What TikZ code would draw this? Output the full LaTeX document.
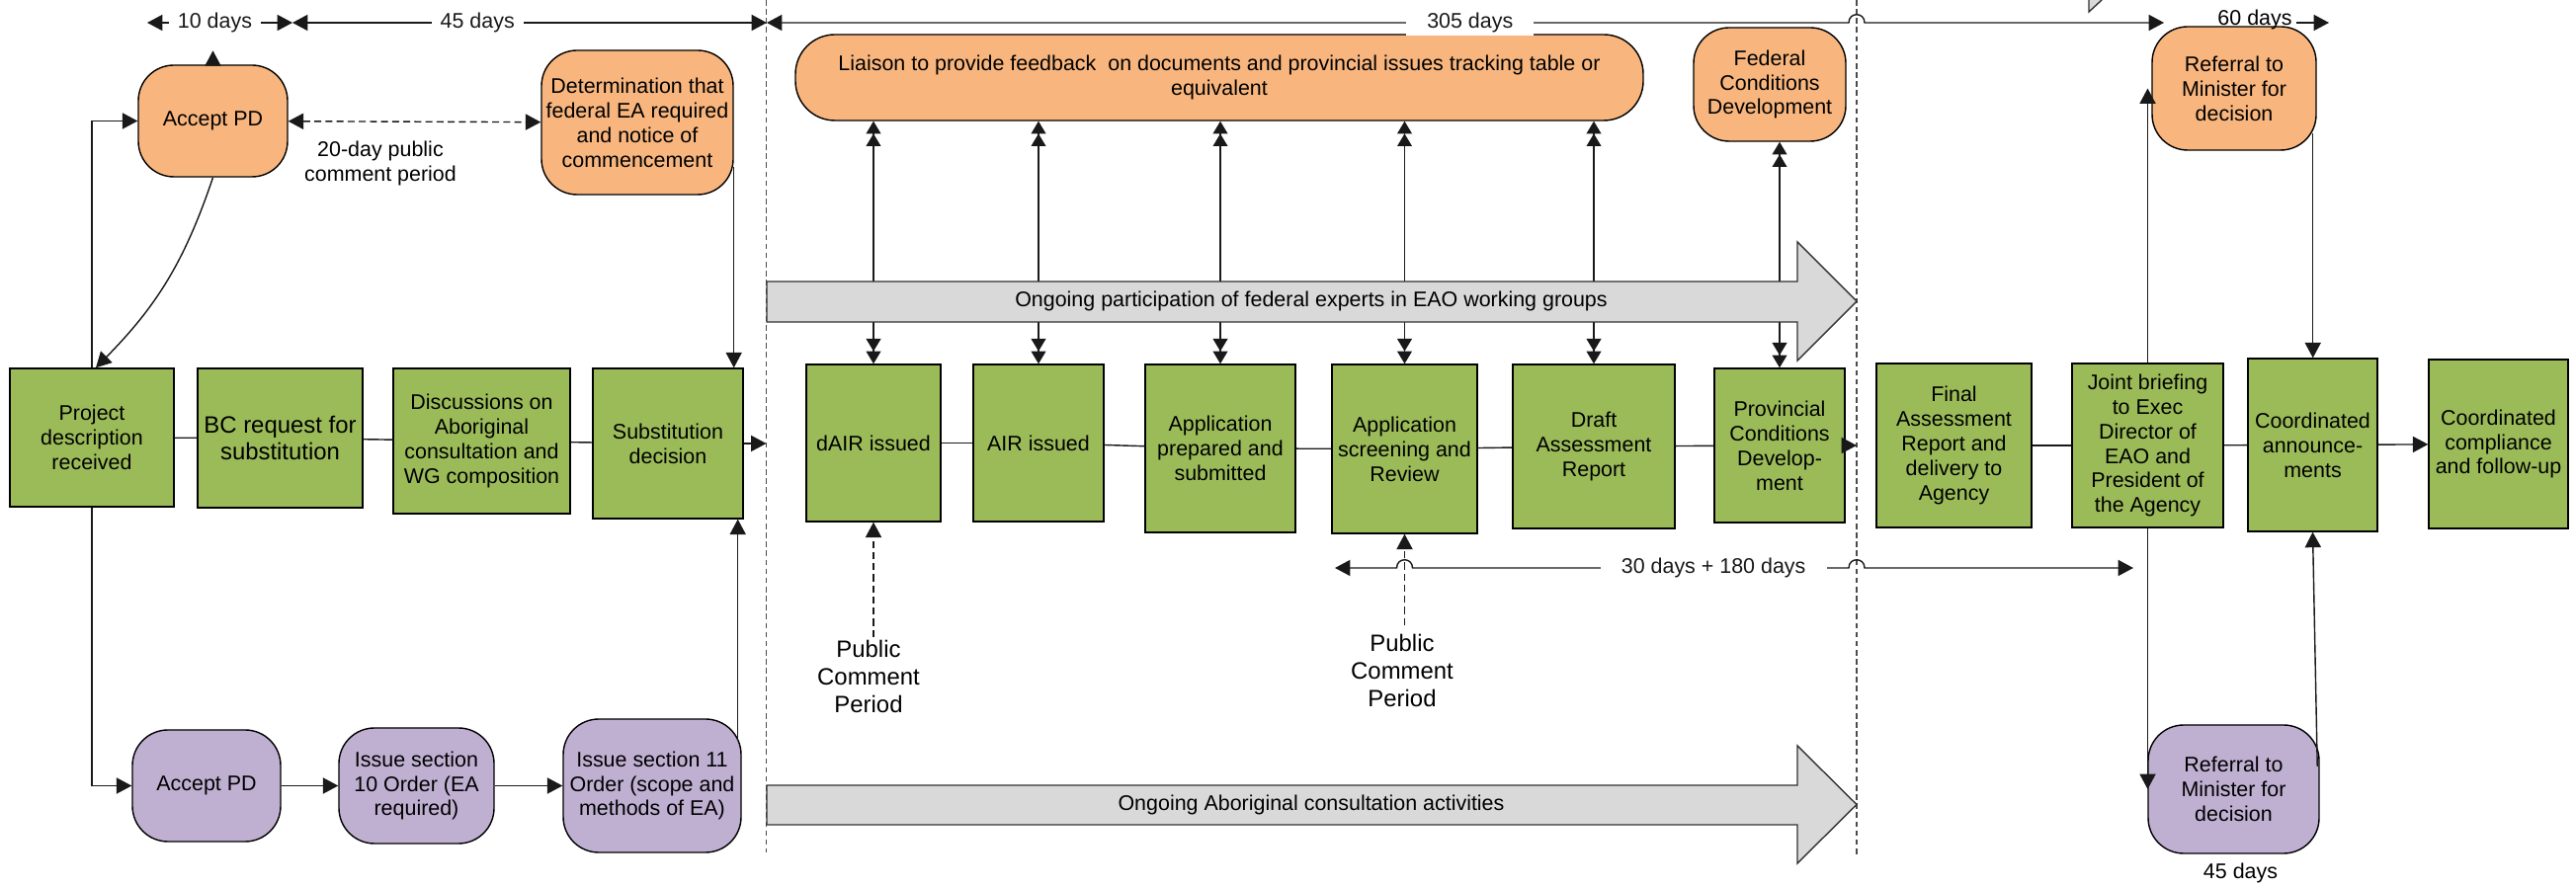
\documentclass[tikz,border=0pt]{standalone}
\usepackage{fontspec}
\setmainfont{Liberation Sans}
\usetikzlibrary{arrows.meta, positioning}
\definecolor{fedOrange}{HTML}{F8B67E}
\definecolor{provGreen}{HTML}{9BBB59}
\definecolor{aborPurple}{HTML}{BFB0D2}
\definecolor{ongoingGrey}{HTML}{D9D9D9}
\newcommand{\flowfont}{\fontsize{6.1}{7.1}\selectfont}
\newcommand{\flowfontlg}{\fontsize{6.8}{7.9}\selectfont}

\begin{document}
\begin{tikzpicture}[
    font=\flowfont,
    >={Triangle[length=4.4pt, width=4.6pt]},
    rstep/.style={draw, rounded corners=0.36cm, align=center, inner sep=1pt},
    gstep/.style={draw, fill=provGreen, align=center, inner sep=1pt},
    fedbox/.style={rstep, fill=fedOrange},
    aborbox/.style={rstep, fill=aborPurple},
    ongoing/.style={draw=black!80, fill=ongoingGrey},
    link/.style={black!90},
    arrow/.style={link, ->},
    dasharrow/.style={arrow, dash pattern=on 2pt off 1.2pt},
    dblarrow/.style={link, {Triangle[length=3.6pt,width=4.2pt] Triangle[length=3.6pt,width=4.2pt]}-{Triangle[length=3.6pt,width=4.2pt] Triangle[length=3.6pt,width=4.2pt]}},
    dimline/.style={link, <->},
    dimlbl/.style={fill=white, inner ysep=1pt, inner xsep=2.5pt},
    sepline/.style={black!70, dash pattern=on 1.6pt off 1pt},
]
\useasboundingbox (0,0) rectangle (26.07,8.98);

% phase separators
\coordinate (sepL) at (7.755,8.98);
\coordinate (sepR) at (18.79,8.98);
\draw[sepline] (sepL) -- (7.755,0.35);
\draw[sepline] (sepR) -- (18.79,0.30);

% federal steps
\node[fedbox, minimum width=1.51cm, minimum height=1.13cm] (acceptfed) at (2.155,7.755) {Accept PD};
\node[fedbox, minimum width=1.94cm, minimum height=1.46cm] (determ) at (6.45,7.74) {Determination that\\federal EA required\\and notice of\\commencement};
\node[fedbox, rounded corners=0.4cm, minimum width=8.58cm, minimum height=0.87cm] (liaison) at (12.34,8.195) {Liaison to provide feedback\ \ on documents and provincial issues tracking table or\\equivalent};
\node[fedbox, minimum width=1.54cm, minimum height=1.15cm] (fedcond) at (17.91,8.125) {Federal\\Conditions\\Development};
\node[fedbox, minimum width=1.66cm, minimum height=1.25cm] (referfed) at (22.61,8.085) {Referral to\\Minister for\\decision};

% provincial steps
\node[gstep, minimum width=1.66cm, minimum height=1.40cm] (pdrecv) at (0.93,4.55) {Project\\description\\received};
\node[gstep, font=\flowfontlg, minimum width=1.67cm, minimum height=1.41cm] (bcreq) at (2.835,4.545) {BC request for\\substitution};
\node[gstep, minimum width=1.79cm, minimum height=1.47cm] (discuss) at (4.875,4.515) {Discussions on\\Aboriginal\\consultation and\\WG composition};
\node[gstep, minimum width=1.52cm, minimum height=1.52cm] (substdec) at (6.76,4.49) {Substitution\\decision};
\node[gstep, minimum width=1.36cm, minimum height=1.59cm] (dair) at (8.84,4.495) {dAIR issued};
\node[gstep, minimum width=1.32cm, minimum height=1.59cm] (air) at (10.51,4.495) {AIR issued};
\node[gstep, minimum width=1.52cm, minimum height=1.70cm] (appprep) at (12.35,4.44) {Application\\prepared and\\submitted};
\node[gstep, minimum width=1.47cm, minimum height=1.71cm] (appscreen) at (14.215,4.435) {Application\\screening and\\Review};
\node[gstep, minimum width=1.64cm, minimum height=1.66cm] (draftrep) at (16.13,4.46) {Draft\\Assessment\\Report};
\node[gstep, minimum width=1.32cm, minimum height=1.56cm] (provcond) at (18.01,4.47) {Provincial\\Conditions\\Develop-\\ment};
\node[gstep, minimum width=1.57cm, minimum height=1.66cm] (finalrep) at (19.775,4.47) {Final\\Assessment\\Report and\\delivery to\\Agency};
\node[gstep, minimum width=1.53cm, minimum height=1.66cm] (jointbrief) at (21.735,4.47) {Joint briefing\\to Exec\\Director of\\EAO and\\President of\\the Agency};
\node[gstep, minimum width=1.31cm, minimum height=1.75cm] (announce) at (23.405,4.475) {Coordinated\\announce-\\ments};
\node[gstep, minimum width=1.41cm, minimum height=1.71cm] (comply) at (25.285,4.485) {Coordinated\\compliance\\and follow-up};

% aboriginal steps
\node[aborbox, minimum width=1.50cm, minimum height=1.13cm] (acceptabor) at (2.09,1.025) {Accept PD};
\node[aborbox, minimum width=1.57cm, minimum height=1.17cm] (sect10) at (4.215,1.025) {Issue section\\10 Order (EA\\required)};
\node[aborbox, minimum width=1.80cm, minimum height=1.35cm] (sect11) at (6.60,1.025) {Issue section 11\\Order (scope and\\methods of EA)};
\node[aborbox, minimum width=1.73cm, minimum height=1.30cm] (referabor) at (22.605,0.99) {Referral to\\Minister for\\decision};

% free labels
\node[align=center] (pubcomment) at (3.85,7.33) {20-day public\\comment period};
\node[font=\flowfontlg, align=center, inner sep=0pt] (pcp1) at (8.79,2.13) {Public\\Comment\\Period};
\node[font=\flowfontlg, align=center, inner sep=0pt] (pcp2) at (14.19,2.19) {Public\\Comment\\Period};
\node[below=0.09cm of referabor, xshift=0.07cm, inner sep=0pt] (days45b) {45 days};

% liaison links (behind the ongoing arrows)
\foreach \stage in {dair, air, appprep, appscreen, draftrep}
    \draw[dblarrow] (\stage.north) -- (\stage.north |- liaison.south);
\draw[dblarrow] (provcond.north) -- (provcond.north |- fedcond.south);

% ongoing activities
\draw[ongoing] (7.76,5.72) -- (18.19,5.72) -- (18.19,5.33) -- (18.79,5.93)
    -- (18.19,6.53) -- (18.19,6.13) -- (7.76,6.13) -- cycle;
\node (fedexperts) at (13.27,5.93) {Ongoing participation of federal experts in EAO working groups};
\draw[ongoing] (7.76,0.63) -- (18.19,0.63) -- (18.19,0.24) -- (18.79,0.835)
    -- (18.19,1.43) -- (18.19,1.03) -- (7.76,1.03) -- cycle;
\node (aborconsult) at (13.27,0.83) {Ongoing Aboriginal consultation activities};
\fill[ongoingGrey] (21.14,8.98) -- (21.14,8.86) -- (21.27,8.98) -- cycle;
\draw[black!80] (21.14,8.98) -- (21.14,8.86) -- (21.27,8.98);

% timeline
\coordinate (t10a) at (1.49,8.75);
\coordinate (t10b) at (2.96,8.75);
\coordinate (t45b) at (7.76,8.75);
\coordinate (t305b) at (21.90,8.75);
\coordinate (t60b) at (23.57,8.75);
\draw[dimline] (t10a) -- node[dimlbl, pos=0.466] {10 days} (t10b);
\draw[dimline] (t10b) -- node[dimlbl, pos=0.39] {45 days} (t45b);
\draw[dimline] (t45b) -- node[dimlbl, inner xsep=6pt, pos=0.65] {305 days} (18.71,8.75)
    .. controls (18.71,8.86) and (18.87,8.86) .. (18.87,8.75) -- (t305b);
\node[inner sep=1pt] (lbl60) at (22.82,8.78) {60 days};
\draw[arrow] (lbl60.east |- t60b) -- (t60b);

\coordinate (t30a) at (13.51,3.23);
\coordinate (t30b) at (21.59,3.23);
\draw[dimline] (t30a) -- (14.135,3.23) .. controls (14.135,3.34) and (14.295,3.34) .. (14.295,3.23)
    -- node[dimlbl, inner xsep=6pt, pos=0.69] {30 days + 180 days} (18.71,3.23)
    .. controls (18.71,3.34) and (18.87,3.34) .. (18.87,3.23) -- (t30b);

% pre-substitution flow
\draw[arrow] (acceptfed.north) -- ++(0,0.14);
\draw[arrow] (pdrecv.north) |- (acceptfed.west);
\draw[arrow] (acceptfed.south) to[bend left=13] ([xshift=0.04cm]pdrecv.north);
\draw[dasharrow, <->] (acceptfed) -- (determ);
\coordinate (determdown) at ([yshift=-0.45cm]determ.east);
\draw[arrow] (determdown) -- (determdown |- substdec.north);
\coordinate (sect11up) at ([xshift=-0.04cm,yshift=0.45cm]sect11.east);
\draw[arrow] (sect11up) -- (sect11up |- substdec.south);
\draw[arrow] (pdrecv.south) |- (acceptabor.west);
\draw[arrow] (acceptabor) -- (sect10);
\draw[arrow] (sect10) -- (sect11);

% main chain
\draw[link] (pdrecv) -- (bcreq);
\draw[link] (bcreq) -- (discuss);
\draw[link] (discuss) -- (substdec);
\draw[arrow] (substdec.east) -- (substdec.east -| sepL);
\foreach \a/\b in {dair/air, air/appprep, appprep/appscreen, appscreen/draftrep,
                   draftrep/provcond, finalrep/jointbrief, jointbrief/announce}
    \draw[link] (\a) -- (\b);
\draw[arrow] (provcond.east) -- (provcond.east -| sepR);
\draw[arrow] (announce) -- (comply);

% public comment periods
\draw[dasharrow] ([yshift=0.03cm]pcp1.north -| dair.south) -- (dair.south);
\draw[dasharrow] ([yshift=0.09cm]pcp2.north -| appscreen.south) -- (appscreen.south);

% decision loop
\draw[arrow] (jointbrief.north) -- (jointbrief.north |- referfed.west);
\coordinate (referdown) at ([xshift=-0.04cm,yshift=0.18cm]referfed.south east);
\draw[arrow] (referdown) -- (referdown |- announce.north);
\draw[arrow] (jointbrief.south) -- (jointbrief.south |- referabor.west);
\coordinate (referup) at ([xshift=-0.025cm,yshift=0.23cm]referabor.east);
\draw[arrow] (referup) -- (announce.south);
\end{tikzpicture}
\end{document}
